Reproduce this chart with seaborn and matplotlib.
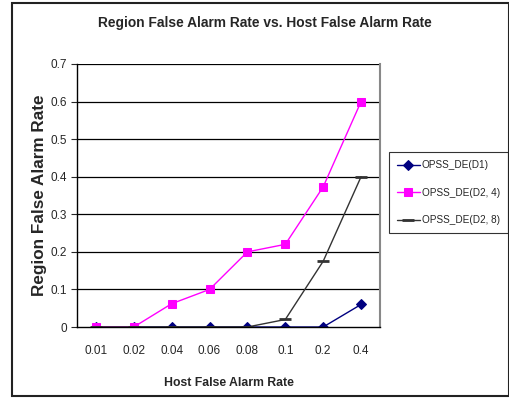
import matplotlib
matplotlib.use("Agg")
import matplotlib.pyplot as plt
import seaborn as sns
import pandas as pd
from matplotlib.patches import Rectangle

categories = ["0.01", "0.02", "0.04", "0.06", "0.08", "0.1", "0.2", "0.4"]
d1 = [0, 0, 0, 0, 0, 0, 0, 0.06]
d2_4 = [0, 0, 0.062, 0.1, 0.2, 0.22, 0.373, 0.6]
d2_8 = [0, 0, 0, 0, 0, 0.02, 0.175, 0.4]
series_names = ["OPSS_DE(D1)", "OPSS_DE(D2, 4)", "OPSS_DE(D2, 8)"]
y_ticks = [0, 0.1, 0.2, 0.3, 0.4, 0.5, 0.6, 0.7]
y_tick_labels = ["0", "0.1", "0.2", "0.3", "0.4", "0.5", "0.6", "0.7"]

sns.set_style("white")
plt.rcParams["font.family"] = ["Liberation Sans", "DejaVu Sans"]

fig = plt.figure(figsize=(5.10, 3.98), dpi=100)
ax = fig.add_axes([77 / 510, 1 - 327 / 398, (380 - 77) / 510, (327 - 64) / 398])

styles = [
    dict(color="#000080", marker="D", markersize=5, linewidth=1.0),
    dict(color="#FF00FF", marker="s", markersize=6, linewidth=1.0),
    dict(color="#333333", marker="_", markersize=8, markeredgewidth=2, linewidth=1.0),
]
for name, vals, st in zip(series_names, [d1, d2_4, d2_8], styles):
    df = pd.DataFrame({"x": list(range(len(categories))), "y": vals})
    sns.lineplot(data=df, x="x", y="y", ax=ax, label=name,
                 markeredgecolor=st["color"], **st)

ax.set_xlim(-0.5, len(categories) - 0.5)
ax.set_ylim(0, 0.7)
ax.set_yticks(y_ticks)
ax.set_yticklabels(y_tick_labels, fontsize=8.5)
ax.set_xticks(range(len(categories)))
ax.set_xticklabels(categories, fontsize=8.5)
ax.set_xticks([i - 0.5 for i in range(len(categories) + 1)], minor=True)
ax.tick_params(axis="x", which="major", length=0, pad=13)
ax.tick_params(axis="x", which="minor", length=4, direction="inout", width=0.8)
ax.tick_params(axis="y", which="major", length=4, direction="out", width=0.8, pad=3, left=True)

for y in y_ticks[1:]:
    ax.axhline(y, color="black", linewidth=0.9, zorder=0)

ax.spines["top"].set_visible(False)
ax.spines["right"].set_color("#888888")
ax.spines["right"].set_linewidth(1.5)
for s in ["left", "bottom"]:
    ax.spines[s].set_color("black")
    ax.spines[s].set_linewidth(1.0)

ax.set_xlabel("Host False Alarm Rate", fontsize=8.8, fontweight="bold", labelpad=14)
ax.set_ylabel("Region False Alarm Rate", fontsize=12.3, fontweight="bold", labelpad=3)
fig.text(265 / 510, 1 - 23 / 398, "Region False Alarm Rate vs. Host False Alarm Rate",
         ha="center", va="center", fontsize=9.9, fontweight="bold")

leg = ax.legend(loc="upper left", bbox_to_anchor=(389 / 510, 1 - 152 / 398),
                bbox_transform=fig.transFigure, frameon=True, fancybox=False,
                fontsize=7.2, handlelength=2.3, handletextpad=0.2,
                borderpad=0.8, labelspacing=1.75, borderaxespad=0)
leg.get_frame().set_edgecolor("black")
leg.get_frame().set_linewidth(0.8)

fig.patches.append(Rectangle((12 / 510, 2 / 398), (509 - 12) / 510, (397 - 4) / 398,
                             transform=fig.transFigure, fill=False,
                             edgecolor="#222222", linewidth=1.5))

fig.savefig("out.png", dpi=100)
